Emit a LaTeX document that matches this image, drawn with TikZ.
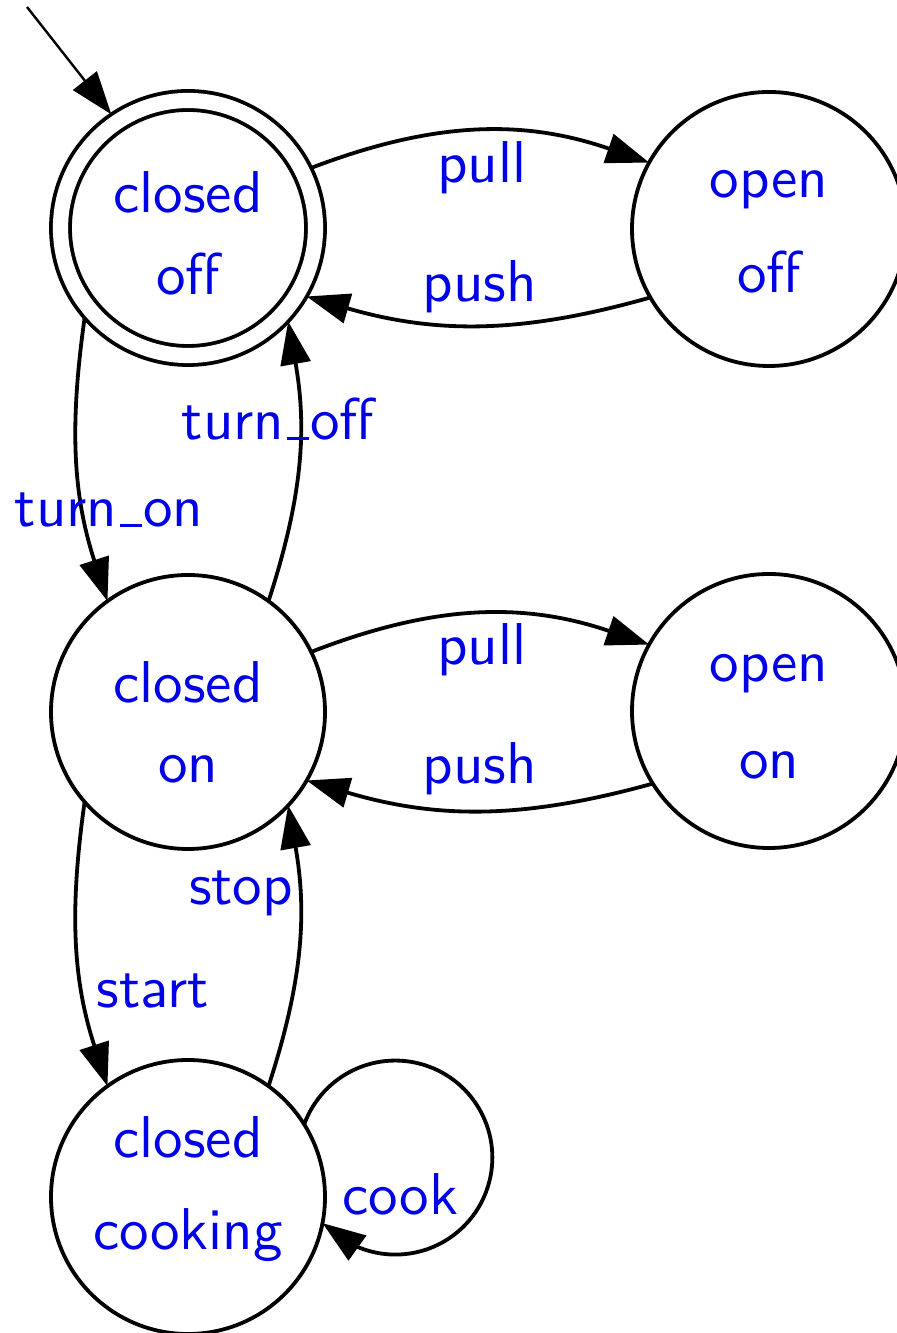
\documentclass[tikz,border=0pt]{standalone}
\usepackage{fontspec}
\newfontfamily\lmsten{lmsans10-regular.otf}
\usetikzlibrary{arrows.meta}
\definecolor{lbl}{RGB}{0,0,230}
\newcommand\twolines[4]{\makebox[0pt]{\raisebox{#3}[0pt][0pt]{#1}}\makebox[0pt]{\raisebox{-#4}[0pt][0pt]{#2}}}
\newcommand\usc{\leavevmode\kern.04em\vbox{\hrule height 1.3pt width .38em}\kern.02em}
\begin{document}
\begin{tikzpicture}[x=0.5pt,y=0.5pt,
  txtfont/.style={font=\lmsten\fontsize{29.5}{34}\selectfont},
  state/.style={circle,draw,line width=1.9pt,minimum size=137pt,inner sep=0pt,outer sep=0pt,text=lbl,txtfont},
  acc/.style={state,double,double distance=7.6pt,minimum size=127.5pt,outer sep=4.75pt},
  edge/.style={line width=1.9pt,-{Triangle[length=21.5pt,width=15pt]}},
  lab/.style={text=lbl,txtfont,anchor=base,inner sep=0pt}]
\useasboundingbox (0,0) rectangle (896,1333);
% states
\node[acc]   (co) at (188,1105) {\twolines{closed}{off}{7.5pt}{33.5pt}};
\node[state] (oo) at (769,1104) {\twolines{open}{off}{15.5pt}{32pt}};
\node[state] (cn) at (188,621)  {\twolines{closed}{on}{4.5pt}{35.5pt}};
\node[state] (on) at (769,622)  {\twolines{open}{on}{14.5pt}{34pt}};
\node[state] (cc) at (188,136)  {\twolines{closed}{cooking}{19.5pt}{26.5pt}};
% initial arrow
\coordinate (init) at (27,1326);
\draw[edge,line width=1.2pt] (init) -- (co.124.5);
% transitions
\draw[edge] (co.26) to[bend left=20] (oo.151);
\draw[edge] (oo.210) to[bend left=16] (co.-30);
\draw[edge] (cn.26) to[bend left=20] (on.151);
\draw[edge] (on.212) to[bend left=16] (cn.-30);
\draw[edge] (co.221) to[out=262,in=108] (cn.126);
\draw[edge] (cn.54) to[out=72,in=280] (co.-43);
\draw[edge] (cn.221) to[out=262,in=108] (cc.126);
\draw[edge] (cc.54) to[out=72,in=280] (cn.-43);
\draw[edge] (cc.32) arc[start angle=160,end angle=-116,radius=97] -- (cc.-11);
% labels
\node[lab] (l-pull1) at (482,1150) {pull};
\node[lab] (l-push1) at (480,1031) {push};
\node[lab] (l-pull2) at (482,668) {pull};
\node[lab] (l-push2) at (480,549) {push};
\node[lab] (l-toff) at (278,893) {turn\usc off};
\node[lab] (l-ton) at (109,806) {turn\usc on};
\node[lab] (l-stop) at (241,428) {stop};
\node[lab] (l-start) at (153,325) {start};
\node[lab] (l-cook) at (400,118) {cook};
\end{tikzpicture}
\end{document}
